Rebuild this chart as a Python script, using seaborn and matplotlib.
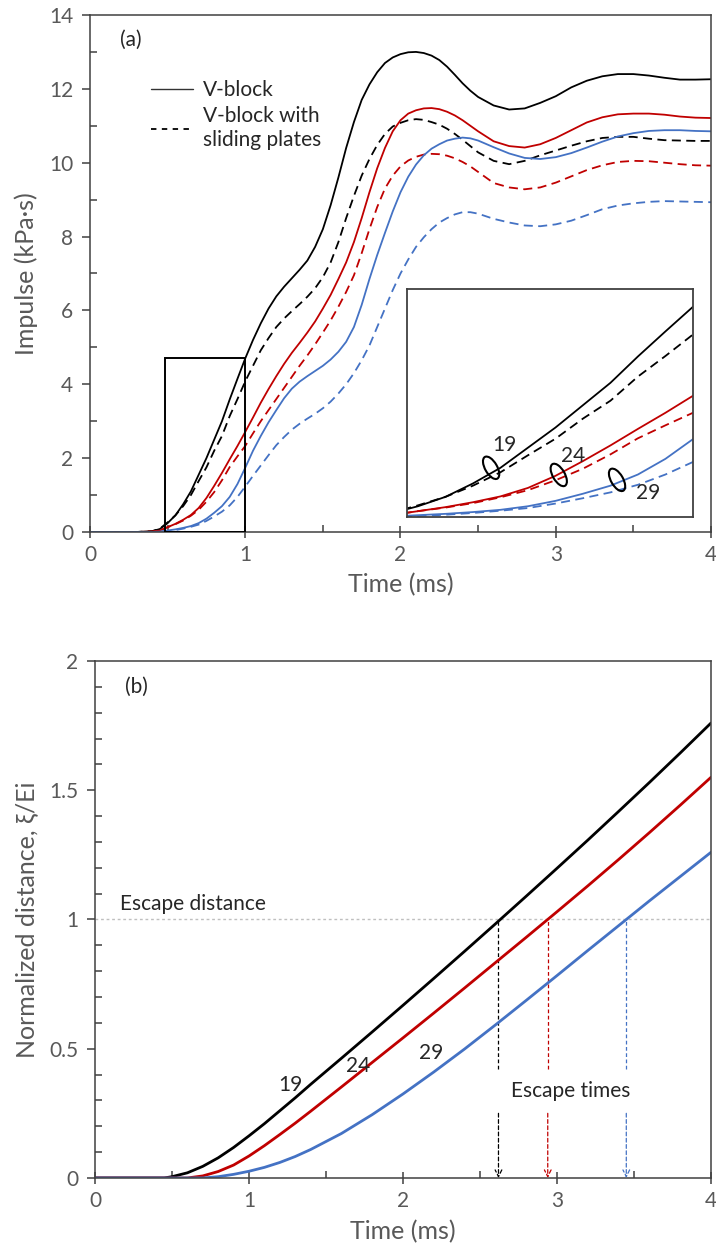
import numpy as np
import pandas as pd
import seaborn as sns
import matplotlib
matplotlib.use("Agg")
import matplotlib.pyplot as plt
from matplotlib.patches import Ellipse, Rectangle
from matplotlib.lines import Line2D
import matplotlib.transforms as mtransforms
from matplotlib.ticker import MultipleLocator, FuncFormatter

# ---------------- data: panel (a) impulse (kPa·s) ----------------
time_a = [0, 0.3, 0.4, 0.45, 0.5, 0.55, 0.6, 0.65, 0.7, 0.75, 0.8, 0.85, 0.9, 0.95, 1.0,
          1.05, 1.1, 1.15, 1.2, 1.25, 1.3, 1.35, 1.4, 1.45, 1.5, 1.55, 1.6, 1.65, 1.7, 1.75,
          1.8, 1.85, 1.9, 1.95, 2.0, 2.05, 2.1, 2.15, 2.2, 2.25, 2.3, 2.35, 2.4, 2.45, 2.5,
          2.6, 2.7, 2.8, 2.9, 3.0, 3.1, 3.2, 3.3, 3.4, 3.5, 3.6, 3.7, 3.8, 3.9, 4.0]
vblock_19 = [0, 0, 0.02, 0.08, 0.24, 0.45, 0.75, 1.1, 1.55, 2.0, 2.5, 3.0, 3.59, 4.15, 4.7,
             5.2, 5.65, 6.05, 6.38, 6.64, 6.87, 7.1, 7.35, 7.72, 8.2, 8.85, 9.6, 10.4, 11.1, 11.7,
             12.12, 12.45, 12.7, 12.85, 12.94, 12.99, 13.0, 12.97, 12.9, 12.78, 12.6, 12.38, 12.15, 11.95, 11.78,
             11.55, 11.44, 11.47, 11.62, 11.8, 12.04, 12.22, 12.34, 12.4, 12.4, 12.36, 12.3, 12.25, 12.25, 12.26]
sliding_19 = [0, 0, 0.02, 0.09, 0.26, 0.45, 0.7, 1.0, 1.38, 1.75, 2.2, 2.6, 3.14, 3.6, 4.08,
              4.5, 4.92, 5.25, 5.55, 5.78, 5.98, 6.17, 6.37, 6.6, 6.9, 7.3, 7.85, 8.5, 9.1, 9.65,
              10.1, 10.48, 10.78, 10.98, 11.08, 11.15, 11.18, 11.16, 11.1, 11.03, 10.92, 10.78, 10.62, 10.45, 10.28,
              10.05, 9.96, 10.05, 10.2, 10.33, 10.46, 10.58, 10.67, 10.7, 10.7, 10.65, 10.61, 10.6, 10.59, 10.59]
vblock_24 = [0, 0, 0.01, 0.04, 0.13, 0.22, 0.33, 0.46, 0.65, 0.92, 1.25, 1.6, 1.97, 2.33, 2.71,
             3.1, 3.5, 3.87, 4.22, 4.55, 4.85, 5.12, 5.4, 5.7, 6.05, 6.42, 6.85, 7.3, 7.85, 8.5,
             9.2, 9.85, 10.4, 10.85, 11.15, 11.33, 11.42, 11.47, 11.48, 11.45, 11.38, 11.28, 11.15, 11.0, 10.85,
             10.58, 10.45, 10.41, 10.5, 10.67, 10.88, 11.09, 11.23, 11.31, 11.33, 11.33, 11.3, 11.25, 11.22, 11.21]
sliding_24 = [0, 0, 0.01, 0.04, 0.13, 0.21, 0.31, 0.44, 0.6, 0.82, 1.08, 1.4, 1.76, 2.05, 2.33,
              2.67, 3.0, 3.3, 3.6, 3.9, 4.2, 4.5, 4.78, 5.08, 5.4, 5.73, 6.1, 6.5, 6.95, 7.55,
              8.2, 8.8, 9.3, 9.65, 9.9, 10.06, 10.16, 10.22, 10.24, 10.23, 10.19, 10.12, 10.02, 9.9, 9.75,
              9.45, 9.33, 9.28, 9.33, 9.46, 9.63, 9.8, 9.93, 10.02, 10.05, 10.04, 10.0, 9.96, 9.93, 9.92]
vblock_29 = [0, 0, 0.0, 0.01, 0.04, 0.07, 0.11, 0.16, 0.24, 0.36, 0.52, 0.7, 0.95, 1.3, 1.74,
             2.2, 2.6, 2.97, 3.3, 3.62, 3.88, 4.07, 4.22, 4.36, 4.5, 4.67, 4.88, 5.15, 5.55, 6.15,
             6.85, 7.5, 8.1, 8.68, 9.2, 9.62, 9.95, 10.2, 10.38, 10.5, 10.6, 10.65, 10.68, 10.66, 10.6,
             10.42, 10.25, 10.13, 10.1, 10.15, 10.26, 10.41, 10.57, 10.71, 10.8, 10.86, 10.88, 10.88, 10.86, 10.85]
sliding_29 = [0, 0, 0.0, 0.01, 0.02, 0.05, 0.09, 0.14, 0.2, 0.3, 0.42, 0.55, 0.72, 0.95, 1.23,
              1.52, 1.8, 2.08, 2.35, 2.57, 2.77, 2.93, 3.07, 3.2, 3.35, 3.53, 3.75, 4.0, 4.3, 4.65,
              5.05, 5.55, 6.05, 6.55, 7.0, 7.38, 7.72, 7.98, 8.2, 8.38, 8.5, 8.6, 8.66, 8.66, 8.62,
              8.48, 8.38, 8.3, 8.28, 8.33, 8.43, 8.58, 8.74, 8.84, 8.9, 8.94, 8.96, 8.95, 8.94, 8.93]

# ---------------- data: panel (b) normalized distance ----------------
time_b = [0, 0.3, 0.4, 0.45, 0.5, 0.6, 0.7, 0.8, 0.9, 1.0, 1.1, 1.2, 1.3, 1.4, 1.6, 1.8, 2.0, 2.2,
          2.4, 2.6, 2.8, 3.0, 3.2, 3.4, 3.6, 3.8, 4.0]
dist_19 = [0, 0, 0, 0, 0.005, 0.02, 0.045, 0.078, 0.118, 0.163, 0.21, 0.26, 0.31, 0.362, 0.463, 0.565,
           0.668, 0.772, 0.877, 0.983, 1.09, 1.198, 1.307, 1.418, 1.53, 1.644, 1.76]
dist_24 = [0, 0, 0, 0, 0, 0, 0.008, 0.025, 0.05, 0.085, 0.125, 0.168, 0.212, 0.258, 0.352, 0.447,
           0.542, 0.638, 0.735, 0.833, 0.931, 1.03, 1.13, 1.232, 1.336, 1.442, 1.55]
dist_29 = [0, 0, 0, 0, 0, 0, 0, 0.005, 0.014, 0.026, 0.041, 0.06, 0.083, 0.11, 0.172, 0.245,
           0.325, 0.41, 0.499, 0.592, 0.687, 0.783, 0.88, 0.976, 1.072, 1.166, 1.26]
angles = ["19", "24", "29"]
escape_times = [2.62, 2.94, 3.45]
escape_distance = 1.0

# zoom window shown in the inset
zoom_t = (0.48, 1.0)
zoom_imp = (0.0, 4.7)

colors = {"19": "#000000", "24": "#C00000", "29": "#4472C4"}
GRAY = "#595959"
SPINE = "#404040"

sns.set_theme(style="white")
plt.rcParams["font.family"] = ["Lato", "DejaVu Sans"]

rows = []
for ang, v, s in zip(angles, [vblock_19, vblock_24, vblock_29], [sliding_19, sliding_24, sliding_29]):
    for t, a, b in zip(time_a, v, s):
        rows.append((t, a, ang, "V-block"))
        rows.append((t, b, ang, "sliding"))
df_a = pd.DataFrame(rows, columns=["time", "impulse", "angle", "config"])

rows = []
for ang, d in zip(angles, [dist_19, dist_24, dist_29]):
    for t, y in zip(time_b, d):
        rows.append((t, y, ang))
df_b = pd.DataFrame(rows, columns=["time", "dist", "angle"])

fig = plt.figure(figsize=(7.16, 12.6), dpi=100)
ax1 = fig.add_axes([0.1257, 0.5778, 0.8673, 0.4103])
ax2 = fig.add_axes([0.1327, 0.0651, 0.8603, 0.4103])
axin = fig.add_axes([0.5684, 0.5897, 0.3994, 0.1810])

dash_map = {"V-block": "", "sliding": (5, 3)}

sns.lineplot(data=df_a, x="time", y="impulse", hue="angle", style="config",
             palette=colors, dashes=dash_map, estimator=None, sort=False,
             legend=False, lw=1.3, ax=ax1)


def style_axes(ax, ymax, ymajor, yminor):
    ax.set_xlim(0, 4)
    ax.set_ylim(0, ymax)
    ax.xaxis.set_major_locator(MultipleLocator(1))
    ax.xaxis.set_minor_locator(MultipleLocator(0.5))
    ax.yaxis.set_major_locator(MultipleLocator(ymajor))
    ax.yaxis.set_minor_locator(MultipleLocator(yminor))
    for sp in ax.spines.values():
        sp.set_color(SPINE)
        sp.set_linewidth(1.1)
        sp.set_visible(True)
    ax.tick_params(axis="x", which="major", direction="inout", length=9, width=1.1,
                   color=SPINE, labelsize=15, labelcolor=GRAY, pad=5)
    ax.tick_params(axis="x", which="minor", direction="in", length=5, width=1.1, color=SPINE)
    ax.tick_params(axis="y", which="major", direction="out", length=6, width=1.1,
                   color=SPINE, labelsize=15, labelcolor=GRAY, pad=6)
    ax.tick_params(axis="y", which="minor", direction="in", length=5, width=1.1, color=SPINE)
    ax.tick_params(top=False, right=False, which="both")
    ax.tick_params(bottom=True, left=True, which="both")
    ax.grid(False)
    ax.set_xlabel("Time (ms)", fontsize=18, color=GRAY, labelpad=6)


style_axes(ax1, 14, 2, 1)
ax1.set_ylabel("Impulse (kPa·s)", fontsize=18, color=GRAY, labelpad=8)
ax1.text(0.066, 0.952, "(a)", transform=ax1.transAxes, fontsize=15, ha="center", va="center")
ax1.add_patch(Rectangle((zoom_t[0], zoom_imp[0]), zoom_t[1] - zoom_t[0], zoom_imp[1] - zoom_imp[0],
                        fill=False, ec="black", lw=1.4, zorder=5))

handles = [Line2D([], [], color="#333333", lw=1.0),
           Line2D([], [], color="black", lw=1.3, ls=(0, (3, 3)))]
ax1.legend(handles, ["V-block", "V-block with\nsliding plates"], loc="upper left",
           bbox_to_anchor=(0.085, 0.89), frameon=False, fontsize=15, handlelength=2.0,
           handletextpad=0.5, labelspacing=0.3, borderaxespad=0)

# inset
sns.lineplot(data=df_a, x="time", y="impulse", hue="angle", style="config",
             palette=colors, dashes=dash_map, estimator=None, sort=False,
             legend=False, lw=1.3, ax=axin)
axin.set_xlim(zoom_t[0], 1.0)
axin.set_ylim(0, 5.1)
axin.set_xticks([])
axin.set_yticks([])
axin.set_xlabel("")
axin.set_ylabel("")
for sp in axin.spines.values():
    sp.set_visible(True)
    sp.set_color(SPINE)
    sp.set_linewidth(1.3)


def ring(ax, x, y):
    tr = fig.dpi_scale_trans + mtransforms.ScaledTranslation(x, y, ax.transData)
    ax.add_patch(Ellipse((0, 0), 0.12, 0.25, angle=30, fill=False, ec="black", lw=1.5,
                         transform=tr, zorder=6))


ring(axin, 0.633, 1.10)
ring(axin, 0.756, 0.94)
ring(axin, 0.862, 0.83)
axin.text(0.657, 1.62, "19", fontsize=15, ha="center", va="center")
axin.text(0.782, 1.36, "24", fontsize=15, ha="center", va="center")
axin.text(0.918, 0.54, "29", fontsize=15, ha="center", va="center")

# ---------------- panel (b) ----------------
sns.lineplot(data=df_b, x="time", y="dist", hue="angle", palette=colors,
             estimator=None, sort=False, legend=False, lw=2.0, ax=ax2)
style_axes(ax2, 2, 0.5, 0.1)
ax2.yaxis.set_major_formatter(FuncFormatter(lambda v, p: f"{v:g}"))
ax2.set_ylabel("Normalized distance, ξ/Ei", fontsize=18, color=GRAY, labelpad=8)
ax2.text(0.068, 0.95, "(b)", transform=ax2.transAxes, fontsize=15, ha="center", va="center")

ax2.axhline(escape_distance, color="#BFBFBF", lw=1.0, ls=(0, (2, 2)), zorder=1)
ax2.text(0.16, 1.058, "Escape distance", fontsize=15, ha="left", va="center")

for ang, te in zip(angles, escape_times):
    c = colors[ang]
    ax2.plot([te, te], [0.42, escape_distance], color=c, lw=0.9, ls=(0, (3, 2)), zorder=1)
    ax2.annotate("", xy=(te, 0.0), xytext=(te, 0.25),
                 arrowprops=dict(arrowstyle="->", color=c, lw=0.9, ls=(0, (3, 2)),
                                 shrinkA=0, shrinkB=0, mutation_scale=12))
ax2.text(3.086, 0.335, "Escape times", fontsize=15, ha="center", va="center")

ax2.text(1.27, 0.36, "19", fontsize=15, ha="center", va="center")
ax2.text(1.71, 0.433, "24", fontsize=15, ha="center", va="center")
ax2.text(2.18, 0.484, "29", fontsize=15, ha="center", va="center")

fig.savefig("out.png", dpi=100)
